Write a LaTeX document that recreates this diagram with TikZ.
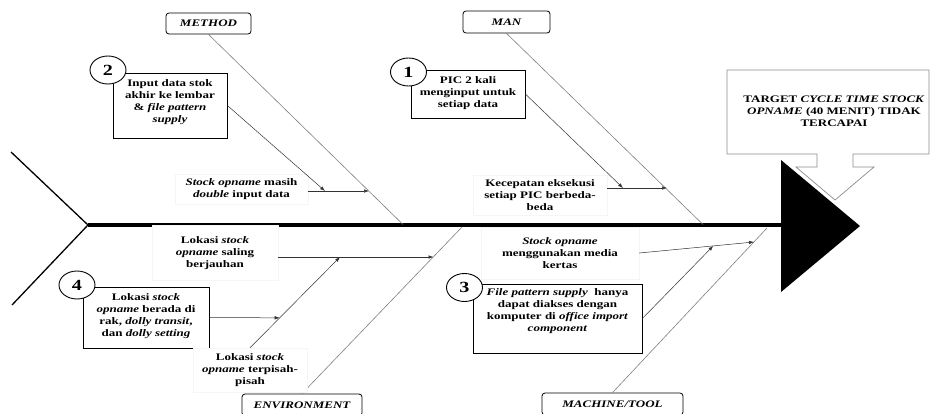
\documentclass[tikz,border=0pt]{standalone}
\usepackage{fontspec}
\setmainfont{Liberation Serif}[FakeStretch=1.3]
\usetikzlibrary{arrows.meta,shapes.geometric,calc}
\begin{document}
\begin{tikzpicture}[x=1pt,y=-1pt,
  every node/.style={font=\fontsize{10}{12}\selectfont\bfseries, align=center, inner sep=0pt},
  catbox/.style={draw, rounded corners=3pt, line width=0.8pt, fill=white,
    font=\fontsize{10}{12}\selectfont\bfseries\itshape},
  causebox/.style={draw, line width=0.8pt, fill=white},
  numcirc/.style={ellipse, draw, line width=0.9pt, fill=white, minimum width=36pt,
    minimum height=28pt, inner sep=0pt, font=\fontsize{15.5}{15.5}\selectfont\bfseries},
  note/.style={fill=white, draw=black!4, line width=0.4pt},
  bone/.style={draw=black!50, line width=0.6pt},
  link/.style={draw=black!80, line width=0.5pt, -{Latex[length=5pt,width=3.5pt]}},
]
\useasboundingbox (0,0) rectangle (931,413);
\clip (0,0) rectangle (931,413);
\fill[white] (0,0) rectangle (931,413);

% effect callout
\draw[draw=black!45, line width=0.7pt, fill=white]
  (727,70) -- (929,70) -- (929,154) -- (853,154) -- (853,167) -- (874,167)
  -- (835,200) -- (796,167) -- (817,167) -- (817,154) -- (727,154) -- cycle;
\node (target) at (834,111)
  {TARGET \textit{CYCLE TIME STOCK}\\ \textit{OPNAME} (40 MENIT) TIDAK\\ TERCAPAI};

% fish tail, spine and head
\coordinate (tailtop) at (11,152);
\coordinate (tail) at (88,225);
\coordinate (tailbot) at (12,305);
\coordinate (head) at (781,225);
\draw[line width=1.3pt] (tailtop) -- (tail) -- (tailbot);
\draw[line width=4pt] (tail) -- (head);
\fill (781,160) -- (860,226) -- (781,292) -- cycle;

% category labels
\node[catbox, minimum width=85pt, minimum height=21pt] (method) at (208.5,23.5) {METHOD};
\node[catbox, minimum width=87pt, minimum height=22pt] (man) at (506.5,22) {MAN};
\node[catbox, minimum width=120pt, minimum height=22pt] (env) at (302,405) {ENVIRONMENT};
\node[catbox, minimum width=141pt, minimum height=22pt] (mach) at (612.5,404) {MACHINE/TOOL};

% main bones
\coordinate (sMethod) at (403,224.5);
\coordinate (sMan) at (703,224.5);
\coordinate (sEnv) at (462,227);
\coordinate (sMach) at (767,228);
\draw[bone] (method.south) -- (sMethod);
\draw[bone] (man.south) -- (sMan);
\draw[bone] (env.north) -- (sEnv);
\draw[bone] (mach.north) -- (sMach);

% sub-causes on the bones
\node[note, minimum width=133pt, minimum height=30pt] (n1) at (241.5,189)
  {\textit{Stock opname} masih\\ \textit{double} input data};
\node[note, minimum width=134pt, minimum height=40pt] (n2) at (540,195.5)
  {Kecepatan eksekusi\\ setiap PIC berbeda-\\ beda};
\node[note, minimum width=126pt, minimum height=55pt] (n3) at (215,253)
  {Lokasi \textit{stock}\\ \textit{opname} saling\\ berjauhan};
\node[note, minimum width=158pt, minimum height=52pt] (n5) at (560,253)
  {\textit{Stock opname}\\ menggunakan media\\ kertas};

% numbered root causes
\node[causebox, minimum width=114pt, minimum height=65pt] (b2) at (170,105.5) {};
\node (t2) at (170,102)
  {Input data stok\\ akhir ke lembar\\ \& \textit{file pattern}\\ \textit{supply}};
\node[numcirc] (c2) at (108,70) {2};

\node[causebox, minimum width=114pt, minimum height=48pt] (b1) at (468,94) {};
\node (t1) at (468,93.5) {PIC 2 kali\\ menginput untuk\\ setiap data};
\node[numcirc] (c1) at (408.5,72) {1};

\node[causebox, minimum width=169pt, minimum height=69pt] (b3) at (557.5,318.5) {};
\node (t3) at (557.5,311)
  {\textit{File pattern supply}\ \ hanya\\ dapat diakses dengan\\ komputer di \textit{office import}\\ \textit{component}};
\node[numcirc] (c3) at (464.5,287.5) {3};

\node[causebox, minimum width=126pt, minimum height=61pt] (b4) at (146,317.5) {};
\node (t4) at (146,316)
  {Lokasi \textit{stock}\\ \textit{opname} berada di\\ rak, \textit{dolly transit},\\ dan \textit{dolly setting}};
\node[numcirc] (c4) at (77,285) {4};

\node[note, minimum width=114pt, minimum height=44pt] (n4) at (250,370)
  {Lokasi \textit{stock}\\ \textit{opname} terpisah-\\ pisah};

% arrow end points on the bones and on other arrows
\coordinate (e1) at (369,191);
\coordinate (e2) at (667,188);
\coordinate (e3) at (433.5,257);
\coordinate (e5) at (754,242);
\coordinate (p1) at (325,191);
\coordinate (p2) at (623,188);
\coordinate (p3) at (340,257);
\coordinate (p4) at ($(n4.north)!0.33!(p3)$);
\coordinate (p5) at ($(n5.east)!0.645!(e5)$);

% arrows
\draw[link] (n1.east |- e1) -- (e1);
\draw[link] (n2.east |- e2) -- (e2);
\draw[link] (n3.east |- e3) -- (e3);
\draw[link] (n5.east) -- (e5);
\draw[link] (n4.north) -- (p3);
\draw[link] (b2.east) -- (p1);
\draw[link] (b1.east) -- (p2);
\draw[link] (b4.east) -- (p4);
\draw[link] (b3.east) -- (p5);
\end{tikzpicture}
\end{document}
